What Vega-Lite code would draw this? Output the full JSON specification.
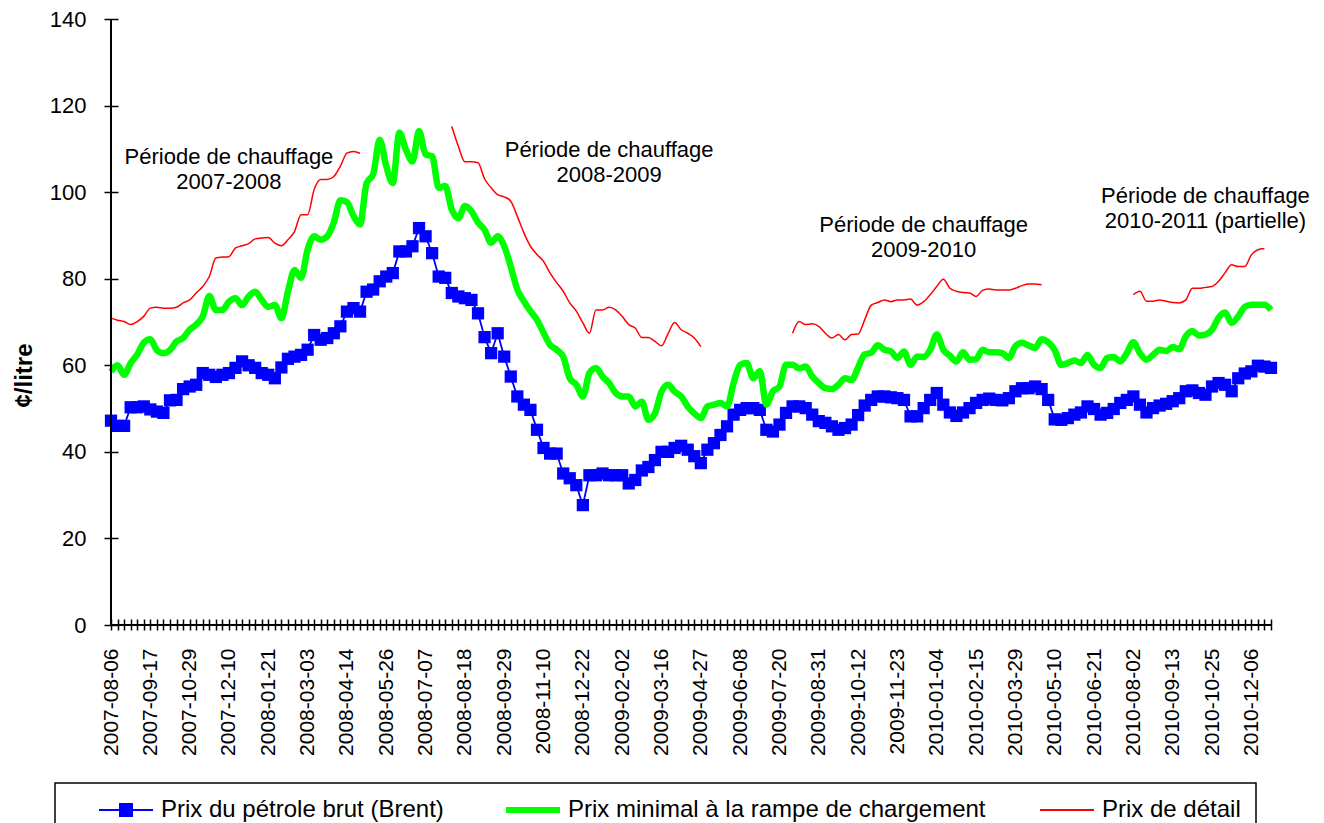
{
"$schema": "https://vega.github.io/schema/vega-lite/v6.json",
"width": 1160, "height": 606,
"autosize": {"type": "none"},
"padding": {"left": 111, "top": 19, "right": 53, "bottom": 198},
"background": "white",
"config": {"view": {"stroke": null}, "font": "Liberation Sans"},
"datasets": {
"w": [
{"d":"2007-08-06","b":47.2,"g":58.5,"r":70.9},{"d":"2007-08-13","b":46.0,"g":60.0,"r":70.4},{"d":"2007-08-20","b":46.0,"g":57.8,"r":70.1},{"d":"2007-08-27","b":50.3,"g":60.5,"r":69.4},{"d":"2007-09-03","b":50.3,"g":62.5,"r":70.1},{"d":"2007-09-10","b":50.5,"g":65.2,"r":71.3},{"d":"2007-09-17","b":49.8,"g":66.0,"r":73.2},{"d":"2007-09-24","b":49.3,"g":63.5,"r":73.4},{"d":"2007-10-01","b":49.0,"g":62.8,"r":73.2},{"d":"2007-10-08","b":51.9,"g":63.5,"r":73.2},{"d":"2007-10-15","b":52.0,"g":65.5,"r":73.4},{"d":"2007-10-22","b":54.5,"g":66.3,"r":74.4},{"d":"2007-10-29","b":55.1,"g":68.2,"r":75.1},{"d":"2007-11-05","b":55.5,"g":69.4,"r":76.7},{"d":"2007-11-12","b":58.2,"g":71.3,"r":78.2},{"d":"2007-11-19","b":57.8,"g":76.0,"r":80.5},{"d":"2007-11-26","b":57.3,"g":72.8,"r":84.8},{"d":"2007-12-03","b":57.8,"g":72.8,"r":85.0},{"d":"2007-12-10","b":58.2,"g":74.7,"r":85.1},{"d":"2007-12-17","b":59.4,"g":75.5,"r":87.1},{"d":"2007-12-24","b":60.9,"g":73.9,"r":87.6},{"d":"2007-12-31","b":60.0,"g":75.9,"r":88.1},
{"d":"2008-01-07","b":59.4,"g":77.0,"r":89.2},{"d":"2008-01-14","b":58.2,"g":75.1,"r":89.4},{"d":"2008-01-21","b":57.8,"g":73.5,"r":89.5},{"d":"2008-01-28","b":57.0,"g":73.9,"r":88.2},{"d":"2008-02-04","b":59.5,"g":70.9,"r":87.6},{"d":"2008-02-11","b":61.5,"g":77.0,"r":89.0},{"d":"2008-02-18","b":62.0,"g":82.0,"r":90.9},{"d":"2008-02-25","b":62.4,"g":80.2,"r":94.8},{"d":"2008-03-03","b":63.6,"g":86.7,"r":94.8},{"d":"2008-03-10","b":67.0,"g":89.8,"r":100.6},{"d":"2008-03-17","b":65.9,"g":89.0,"r":102.9},{"d":"2008-03-24","b":66.3,"g":89.8,"r":102.9},{"d":"2008-03-31","b":67.4,"g":93.0,"r":103.6},{"d":"2008-04-07","b":69.0,"g":98.1,"r":106.0},{"d":"2008-04-14","b":72.4,"g":97.7,"r":109.0},{"d":"2008-04-21","b":73.2,"g":94.5,"r":109.4},{"d":"2008-04-28","b":72.4,"g":92.5,"r":109.0},
{"d":"2008-05-05","b":77.0,"g":102.1},{"d":"2008-05-12","b":77.5,"g":104.1},{"d":"2008-05-19","b":79.4,"g":112.1},{"d":"2008-05-26","b":80.5,"g":106.0},{"d":"2008-06-02","b":81.3,"g":102.1},{"d":"2008-06-09","b":86.3,"g":113.7},{"d":"2008-06-16","b":86.3,"g":109.8},{"d":"2008-06-23","b":87.5,"g":107.1},{"d":"2008-06-30","b":91.7,"g":114.1},{"d":"2008-07-07","b":89.8,"g":108.7},{"d":"2008-07-14","b":85.9,"g":108.3},{"d":"2008-07-21","b":80.5,"g":101.0},{"d":"2008-07-28","b":80.2,"g":101.4},
{"d":"2008-08-04","b":76.7,"g":96.0,"r":115.2},{"d":"2008-08-11","b":75.9,"g":94.0,"r":110.6},{"d":"2008-08-18","b":75.5,"g":96.8,"r":107.0},{"d":"2008-08-25","b":75.1,"g":95.6,"r":107.0},{"d":"2008-09-01","b":72.0,"g":93.0,"r":106.8},{"d":"2008-09-08","b":66.5,"g":91.3,"r":103.1},{"d":"2008-09-15","b":62.8,"g":88.3,"r":101.0},{"d":"2008-09-22","b":67.4,"g":89.8,"r":99.4},{"d":"2008-09-29","b":62.0,"g":87.5,"r":98.9},{"d":"2008-10-06","b":57.4,"g":82.8,"r":97.9},{"d":"2008-10-13","b":52.8,"g":77.5,"r":94.4},{"d":"2008-10-20","b":50.9,"g":74.8,"r":90.6},{"d":"2008-10-27","b":49.7,"g":72.5,"r":87.5},{"d":"2008-11-03","b":45.1,"g":70.5,"r":85.6},{"d":"2008-11-10","b":40.9,"g":67.5,"r":84.0},{"d":"2008-11-17","b":39.6,"g":64.7,"r":81.3},{"d":"2008-11-24","b":39.6,"g":63.6,"r":79.1},{"d":"2008-12-01","b":35.0,"g":62.0,"r":77.1},{"d":"2008-12-08","b":33.9,"g":57.0,"r":74.4},{"d":"2008-12-15","b":32.3,"g":55.5,"r":72.5},{"d":"2008-12-22","b":27.7,"g":52.8,"r":69.8},{"d":"2008-12-29","b":34.6,"g":58.2,"r":67.4},
{"d":"2009-01-05","b":34.6,"g":59.4,"r":72.8},{"d":"2009-01-12","b":35.0,"g":57.4,"r":72.8},{"d":"2009-01-19","b":34.6,"g":55.9,"r":73.4},{"d":"2009-01-26","b":34.6,"g":53.6,"r":72.8},{"d":"2009-02-02","b":34.6,"g":52.8,"r":71.3},{"d":"2009-02-09","b":32.7,"g":52.8,"r":69.4},{"d":"2009-02-16","b":33.5,"g":50.5,"r":68.6},{"d":"2009-02-23","b":35.7,"g":51.6,"r":66.4},{"d":"2009-03-02","b":36.5,"g":47.4,"r":66.4},{"d":"2009-03-09","b":38.1,"g":48.9,"r":65.5},{"d":"2009-03-16","b":40.0,"g":53.9,"r":64.5},{"d":"2009-03-23","b":40.0,"g":55.5,"r":67.3},{"d":"2009-03-30","b":40.9,"g":53.9,"r":69.9},{"d":"2009-04-06","b":41.4,"g":52.8,"r":68.2},{"d":"2009-04-13","b":40.5,"g":50.5,"r":67.4},{"d":"2009-04-20","b":39.0,"g":48.9,"r":66.3},{"d":"2009-04-27","b":37.4,"g":47.8,"r":64.3},
{"d":"2009-05-04","b":40.5,"g":50.5},{"d":"2009-05-11","b":42.0,"g":50.9},{"d":"2009-05-18","b":43.9,"g":51.3},{"d":"2009-05-25","b":45.9,"g":50.5},{"d":"2009-06-01","b":48.6,"g":55.9},{"d":"2009-06-08","b":49.7,"g":60.1},{"d":"2009-06-15","b":50.1,"g":60.5},{"d":"2009-06-22","b":50.1,"g":57.0},{"d":"2009-06-29","b":49.7,"g":58.6},{"d":"2009-07-06","b":45.1,"g":50.9},{"d":"2009-07-13","b":44.7,"g":54.0},{"d":"2009-07-20","b":46.3,"g":55.1},{"d":"2009-07-27","b":49.0,"g":60.1},
{"d":"2009-08-03","b":50.5,"g":60.1,"r":67.4},{"d":"2009-08-10","b":50.5,"g":59.3,"r":70.1},{"d":"2009-08-17","b":50.1,"g":59.7,"r":69.4},{"d":"2009-08-24","b":48.6,"g":57.4,"r":69.6},{"d":"2009-08-31","b":47.1,"g":55.9,"r":69.0},{"d":"2009-09-07","b":46.7,"g":54.7,"r":67.4},{"d":"2009-09-14","b":45.9,"g":54.5,"r":66.3},{"d":"2009-09-21","b":45.1,"g":55.5,"r":67.1},{"d":"2009-09-28","b":45.5,"g":57.0,"r":65.9},{"d":"2009-10-05","b":46.3,"g":56.6,"r":67.1},{"d":"2009-10-12","b":48.5,"g":59.5,"r":67.2},{"d":"2009-10-19","b":50.7,"g":62.5,"r":70.5},{"d":"2009-10-26","b":52.0,"g":62.9,"r":73.9},{"d":"2009-11-02","b":52.8,"g":64.6,"r":74.5},{"d":"2009-11-09","b":52.8,"g":63.6,"r":75.1},{"d":"2009-11-16","b":52.6,"g":63.2,"r":74.7},{"d":"2009-11-23","b":52.4,"g":61.7,"r":75.1},{"d":"2009-11-30","b":52.0,"g":63.2,"r":75.1},{"d":"2009-12-07","b":48.2,"g":60.1,"r":75.3},{"d":"2009-12-14","b":48.2,"g":62.0,"r":73.9},{"d":"2009-12-21","b":50.1,"g":61.9,"r":74.7},{"d":"2009-12-28","b":52.0,"g":63.6,"r":76.3},
{"d":"2010-01-04","b":53.6,"g":67.1,"r":78.2},{"d":"2010-01-11","b":50.9,"g":63.6,"r":79.9},{"d":"2010-01-18","b":49.1,"g":62.2,"r":77.8},{"d":"2010-01-25","b":48.3,"g":60.9,"r":77.1},{"d":"2010-02-01","b":49.1,"g":63.0,"r":76.8},{"d":"2010-02-08","b":50.1,"g":61.3,"r":76.7},{"d":"2010-02-15","b":51.3,"g":61.4,"r":75.9},{"d":"2010-02-22","b":52.0,"g":63.6,"r":77.3},{"d":"2010-03-01","b":52.3,"g":63.0,"r":77.6},{"d":"2010-03-08","b":52.0,"g":63.0,"r":77.4},{"d":"2010-03-15","b":51.9,"g":62.8,"r":77.4},{"d":"2010-03-22","b":52.4,"g":61.7,"r":77.4},{"d":"2010-03-29","b":54.0,"g":64.4,"r":77.8},{"d":"2010-04-05","b":54.7,"g":65.2,"r":78.4},{"d":"2010-04-12","b":54.7,"g":64.6,"r":78.8},{"d":"2010-04-19","b":55.1,"g":64.0,"r":78.8},{"d":"2010-04-26","b":54.5,"g":66.0,"r":78.6},
{"d":"2010-05-03","b":52.0,"g":65.3},{"d":"2010-05-10","b":47.5,"g":63.5},{"d":"2010-05-17","b":47.4,"g":60.1},{"d":"2010-05-24","b":47.8,"g":60.5},{"d":"2010-05-31","b":48.6,"g":61.1},{"d":"2010-06-07","b":49.1,"g":60.5},{"d":"2010-06-14","b":50.5,"g":62.4},{"d":"2010-06-21","b":49.9,"g":60.1},{"d":"2010-06-28","b":48.6,"g":59.4},{"d":"2010-07-05","b":49.0,"g":61.7},{"d":"2010-07-12","b":49.9,"g":61.9},{"d":"2010-07-19","b":51.3,"g":60.9},{"d":"2010-07-26","b":52.0,"g":62.8},
{"d":"2010-08-02","b":52.8,"g":65.3,"r":76.3},{"d":"2010-08-09","b":50.9,"g":62.8,"r":77.1},{"d":"2010-08-16","b":49.1,"g":61.3,"r":74.8},{"d":"2010-08-23","b":50.1,"g":62.4,"r":74.8},{"d":"2010-08-30","b":50.7,"g":63.6,"r":75.1},{"d":"2010-09-06","b":51.1,"g":63.3,"r":74.8},{"d":"2010-09-13","b":51.7,"g":64.2,"r":74.5},{"d":"2010-09-20","b":52.4,"g":63.7,"r":74.4},{"d":"2010-09-27","b":54.0,"g":66.7,"r":75.1},{"d":"2010-10-04","b":54.2,"g":67.9,"r":77.8},{"d":"2010-10-11","b":53.6,"g":66.9,"r":77.8},{"d":"2010-10-18","b":53.2,"g":67.1,"r":78.0},{"d":"2010-10-25","b":55.1,"g":68.2,"r":78.2},{"d":"2010-11-01","b":55.9,"g":71.0,"r":79.4},{"d":"2010-11-08","b":55.5,"g":72.2,"r":81.4},{"d":"2010-11-15","b":54.0,"g":69.8,"r":83.2},{"d":"2010-11-22","b":57.0,"g":71.3,"r":82.8},{"d":"2010-11-29","b":58.1,"g":73.5,"r":82.8},{"d":"2010-12-06","b":58.6,"g":74.0,"r":85.5},{"d":"2010-12-13","b":59.9,"g":74.0,"r":86.7},{"d":"2010-12-20","b":59.7,"g":74.0,"r":87.0},{"d":"2010-12-27","b":59.4,"g":72.8}
],
"ann": [
{"d":"2007-12-10","v":108.2,"t":"Période de chauffage\n2007-2008"},
{"d":"2009-01-19","v":109.8,"t":"Période de chauffage\n2008-2009"},
{"d":"2009-12-21","v":92.5,"t":"Période de chauffage\n2009-2010"},
{"d":"2010-10-18","v":99.0,"t":"Période de chauffage\n2010-2011 (partielle)"}
]
},
"data": {"name": "w"},
"encoding": {
"x": {"field": "d", "type": "ordinal", "sort": "ascending",
 "scale": {"type": "point", "padding": 0},
 "axis": {"title": null, "labelAngle": -90, "labelFont": "Liberation Sans", "labelFontSize": 21, "labelColor": "black",
  "labelOverlap": false, "labelBound": false, "labelFlush": false, "labelPadding": 18,
  "labelExpr": "(round((toDate(datum.value) - toDate('2007-08-06')) / 604800000) % 6) === 0 ? datum.label : ''",
  "tickSize": 11, "tickWidth": 1.5, "tickColor": "black", "offset": -6, "domain": false, "grid": false}}
},
"layer": [
{"mark": {"type": "line", "strokeWidth": 1.8, "color": "#0000ff"},
 "encoding": {
  "y": {"field": "b", "type": "quantitative",
   "scale": {"domain": [0, 140], "nice": false, "zero": true},
   "axis": {"title": "¢/litre", "values": [0,20,40,60,80,100,120,140], "labelFont": "Liberation Sans", "labelFontSize": 22, "labelColor": "black",
    "labelPadding": 18, "tickSize": 14, "tickWidth": 1.5, "tickColor": "black", "offset": -7, "domain": false, "grid": false,
    "titleFont": "Liberation Sans", "titleFontSize": 24, "titleFontWeight": "bold", "titleColor": "black",
    "titleX": -94, "titleY": 356, "titleAngle": -90, "titleBaseline": "middle", "titleAlign": "center"}},
  "color": {"datum": "Prix du pétrole brut (Brent)",
   "scale": {"domain": ["Prix du pétrole brut (Brent)", "Prix minimal à la rampe de chargement", "Prix de détail"], "range": ["#0000ff", "#00ff00", "#ff0000"]},
   "legend": {"orient": "none", "legendX": -56, "legendY": 764, "direction": "horizontal",
    "title": " ", "titleOrient": "left", "titlePadding": 27, "titleFontSize": 11,
    "padding": 15, "strokeColor": "black",
    "labelFont": "Liberation Sans", "labelFontSize": 24, "labelColor": "black", "labelLimit": 700,
    "symbolSize": 400, "labelOffset": 40, "columnPadding": 50, "symbolOpacity": 1,
    "encode": {
     "legend": {"update": {"stroke": {"value": "black"}, "strokeWidth": {"value": 1.5}}},
     "symbols": {"update": {
      "shape": {"signal": "datum.value === 'Prix du pétrole brut (Brent)' ? 'M-1,0H4.4M1.1,-0.6H2.3V0.6H1.1Z' : 'M-1,0H4.4'"},
      "stroke": {"signal": "datum.value === 'Prix du pétrole brut (Brent)' ? '#0000ff' : (datum.value === 'Prix de détail' ? '#ff0000' : '#00ff00')"},
      "fill": {"signal": "datum.value === 'Prix du pétrole brut (Brent)' ? '#0000ff' : 'transparent'"},
      "strokeWidth": {"signal": "datum.value === 'Prix minimal à la rampe de chargement' ? 6 : 2"},
      "opacity": {"value": 1}}}
    }}}
 }},
{"mark": {"type": "point", "shape": "square", "filled": true, "size": 150, "opacity": 1, "color": "#0000ff"},
 "encoding": {"y": {"field": "b", "type": "quantitative"}, "color": {"datum": "Prix du pétrole brut (Brent)"}}},
{"mark": {"type": "line", "strokeWidth": 6.5, "interpolate": "monotone"},
 "encoding": {"y": {"field": "g", "type": "quantitative"}, "color": {"datum": "Prix minimal à la rampe de chargement"}}},
{"mark": {"type": "line", "strokeWidth": 1.5, "interpolate": "monotone", "invalid": "break-paths-show-domains"},
 "encoding": {"y": {"field": "r", "type": "quantitative"}, "color": {"datum": "Prix de détail"}}},
{"data": {"name": "ann"},
 "mark": {"type": "text", "font": "Liberation Sans", "fontSize": 22, "color": "black", "lineBreak": "\n", "lineHeight": 25, "align": "center", "baseline": "middle"},
 "encoding": {"y": {"field": "v", "type": "quantitative"}, "text": {"field": "t"}}},
{"data": {"values": [{}]},
 "mark": {"type": "rule", "color": "black", "strokeWidth": 2},
 "encoding": {"x": {"datum": "2007-08-06"}}},
{"data": {"values": [{}]},
 "mark": {"type": "rule", "color": "black", "strokeWidth": 2},
 "encoding": {"x": {"datum": "2007-08-06"}, "x2": {"datum": "2010-12-27"}, "y": {"datum": 0}}}
]
}
